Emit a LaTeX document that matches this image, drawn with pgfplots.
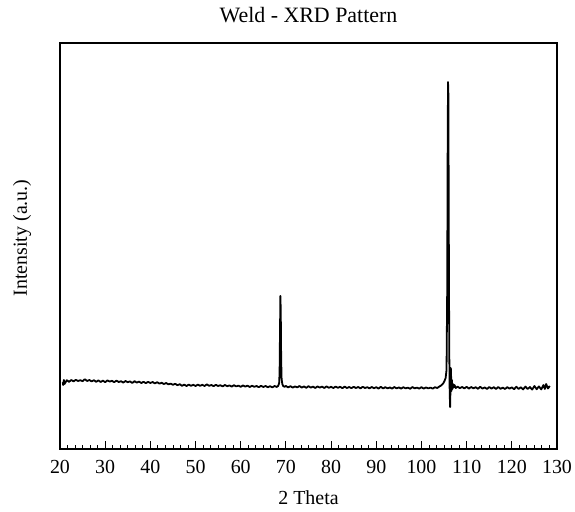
\documentclass[border=0pt]{standalone}
\usepackage{fontspec}
\setmainfont{Liberation Serif}
\usepackage{pgfplots}
\pgfplotsset{compat=1.18}

\begin{document}
\begin{tikzpicture}
\begin{axis}[
  scale only axis,
  width=497bp, height=406bp,
  at={(0,0)}, anchor=south west,
  xmin=20, xmax=130,
  ymin=0, ymax=4060,
  xtick={20,30,...,130},
  minor x tick num=5,
  xtick pos=bottom,
  ytick=\empty,
  tick align=inside,
  major tick length=8bp,
  minor tick length=4.5bp,
  axis line style={line width=1.2bp},
  every tick/.style={line width=0.9bp, black},
  /pgf/number format/assume math mode=true,
  ticklabel style={font=\fontsize{20}{24}\selectfont},
  xticklabel style={anchor=base, yshift=-24bp},
  title={Weld - XRD Pattern},
  title style={font=\fontsize{22}{26}\selectfont, at={(axis description cs:0.5,1)}, anchor=base, yshift=15bp},
  xlabel={2 Theta},
  xlabel style={font=\fontsize{20}{24}\selectfont, at={(axis description cs:0.5,0)}, anchor=base, yshift=-55bp},
  ylabel={Intensity (a.u.)},
  ylabel style={font=\fontsize{20}{24}\selectfont, at={(axis description cs:0,0.52)}, anchor=center, yshift=38bp},
]
\addplot[black, line width=1.8bp, line join=round] coordinates {
(20.6,668) (20.7,640) (20.85,690) (21.0,650) (21.5,688) (22.0,672) (22.5,690) (23.0,676)
(23.5,692) (24.0,680) (24.5,688) (25.0,678) (25.5,698) (26.0,680) (26.5,690) (27.0,676)
(27.5,688) (28.0,672) (28.5,686) (29.0,670) (29.5,684) (30.0,668) (30.5,686) (31.0,674)
(31.5,682) (32.0,668) (32.5,684) (33.0,670) (33.5,678) (34.0,664) (34.5,680) (35.0,668)
(35.5,676) (36.0,660) (36.5,678) (37.0,664) (37.5,674) (38.0,660) (38.5,672) (39.0,658)
(39.5,672) (40.0,660) (40.5,670) (41.0,656) (41.5,668) (42.0,654) (42.5,662) (43.0,650)
(43.5,660) (44.0,646) (44.5,654) (45.0,642) (45.5,652) (46.0,638) (46.5,648) (47.0,632)
(47.5,644) (48.0,630) (48.5,644) (49.0,632) (49.5,642) (50.0,630) (50.5,644) (51.0,632)
(51.5,642) (52.0,630) (52.5,646) (53.0,632) (53.5,640) (54.0,628) (54.5,642) (55.0,630)
(55.5,638) (56.0,626) (56.5,640) (57.0,628) (57.5,636) (58.0,624) (58.5,638) (59.0,626)
(59.5,634) (60.0,622) (60.5,636) (61.0,624) (61.5,634) (62.0,620) (62.5,632) (63.0,622)
(63.5,630) (64.0,618) (64.5,632) (65.0,620) (65.5,630) (66.0,618) (66.5,628) (67.0,616)
(67.5,630) (68.0,620) (68.3,632) (68.5,660) (68.6,760) (68.7,1200) (68.78,1530) (68.86,1380)
(68.95,900) (69.05,700) (69.2,650) (69.4,630) (69.7,622) (70.0,630) (70.5,616) (71.0,628)
(71.5,614) (72.0,626) (72.5,616) (73.0,630) (73.5,614) (74.0,626) (74.5,612) (75.0,628)
(75.5,614) (76.0,624) (76.5,610) (77.0,626) (77.5,614) (78.0,624) (78.5,610) (79.0,626)
(79.5,612) (80.0,622) (80.5,610) (81.0,624) (81.5,612) (82.0,622) (82.5,608) (83.0,624)
(83.5,610) (84.0,620) (84.5,608) (85.0,622) (85.5,610) (86.0,620) (86.5,606) (87.0,622)
(87.5,610) (88.0,618) (88.5,606) (89.0,620) (89.5,608) (90.0,618) (90.5,604) (91.0,622)
(91.5,606) (92.0,618) (92.5,606) (93.0,616) (93.5,604) (94.0,620) (94.5,606) (95.0,616)
(95.5,604) (96.0,618) (96.5,606) (97.0,614) (97.5,602) (98.0,620) (98.5,606) (99.0,614)
(99.5,604) (100.0,618) (100.5,604) (101.0,616) (101.5,606) (102.0,614) (102.5,604) (103.0,618)
(103.5,610) (104.0,626) (104.4,636) (104.8,655) (105.1,680) (105.35,710) (105.55,790) (105.7,1600)
(105.8,3000) (105.88,3670) (105.96,3550) (106.05,2200) (106.15,1000) (106.25,560) (106.35,420) (106.42,600)
(106.5,810) (106.58,700) (106.65,580) (106.75,690) (106.85,600) (106.95,650) (107.1,615) (107.3,640)
(107.6,610) (108.0,624) (108.5,608) (109.0,620) (109.5,606) (110.0,622) (110.5,604) (111.0,620)
(111.5,606) (112.0,618) (112.5,602) (113.0,622) (113.5,604) (114.0,616) (114.5,600) (115.0,620)
(115.5,604) (116.0,618) (116.5,600) (117.0,620) (117.5,602) (118.0,614) (118.5,600) (119.0,618)
(119.5,604) (120.0,616) (120.5,598) (121.0,622) (121.5,600) (122.0,618) (122.5,596) (123.0,624)
(123.5,600) (124.0,620) (124.5,594) (125.0,630) (125.5,598) (126.0,626) (126.5,596) (127.0,640)
(127.3,600) (127.6,650) (128.0,605) (128.4,630)
};
\end{axis}
\pgfresetboundingbox
\path (-60bp,-63bp) rectangle (515bp,449bp);
\end{tikzpicture}
\end{document}
